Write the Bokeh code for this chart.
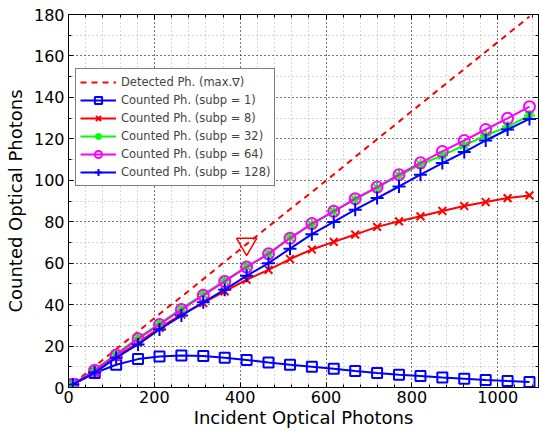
from bokeh.plotting import figure
from bokeh.models import (Range1d, LinearAxis, SingleIntervalTicker, Legend, LegendItem,
                          CustomJSTickFormatter)
from bokeh.embed import file_html
from bokeh.resources import INLINE

# ---- data ----
incident = [10, 61, 111, 162, 212, 263, 314, 364, 415, 466, 516,
            567, 618, 668, 719, 770, 820, 871, 922, 972, 1023, 1074]
detected = [1.7, 10.2, 18.5, 27.0, 35.5, 43.8, 52.3, 60.7, 69.2, 77.7, 86.0,
            94.3, 102.8, 111.3, 119.8, 128.3, 136.7, 145.2, 153.7, 162.0, 170.5, 179.0]
subp1 = [1.5, 7.0, 11.0, 13.7, 15.0, 15.5, 15.2, 14.3, 13.3, 12.1, 11.0,
         10.0, 9.0, 8.0, 7.0, 6.2, 5.5, 4.8, 4.2, 3.6, 3.1, 2.7]
subp8 = [1.5, 7.2, 14.9, 21.6, 28.8, 35.2, 40.8, 46.4, 52.0, 56.8, 62.0,
         66.6, 70.3, 73.8, 77.5, 80.2, 82.6, 85.2, 87.6, 89.5, 91.4, 92.7]
subp32 = [1.5, 8.6, 16.1, 24.0, 30.9, 38.1, 45.0, 51.6, 58.3, 64.6, 72.4,
          78.6, 85.0, 90.8, 96.4, 102.3, 107.6, 112.0, 116.8, 121.6, 125.9, 131.2]
subp64 = [1.5, 8.3, 15.7, 23.5, 30.4, 37.6, 44.5, 51.2, 58.1, 64.5, 72.0,
          79.1, 85.0, 91.1, 96.7, 102.7, 108.4, 113.9, 119.2, 124.5, 129.9, 135.5]
subp128 = [1.5, 7.2, 14.4, 20.8, 28.0, 34.7, 41.1, 47.2, 53.9, 60.0, 67.0,
           74.0, 79.9, 85.8, 91.4, 97.0, 102.7, 108.3, 113.6, 119.2, 124.5, 129.6]
max_grad_index = 8

x_label = "Incident Optical Photons"
y_label = "Counted Optical Photons"
FONT = "DejaVu Sans"

p = figure(width=541, height=432, output_backend="svg", toolbar_location=None,
           x_range=Range1d(0, 1095), y_range=Range1d(0, 180),
           min_border_left=68, min_border_right=3, min_border_top=14, min_border_bottom=45,
           x_axis_label=x_label, y_axis_label=y_label)
p.background_fill_color = "white"
p.border_fill_color = "white"
p.outline_line_color = "black"
p.outline_line_width = 1

xt = SingleIntervalTicker(interval=200, num_minor_ticks=5)
yt = SingleIntervalTicker(interval=20, num_minor_ticks=2)
p.xaxis.ticker = xt
p.yaxis.ticker = yt
p.xgrid.ticker = xt
p.ygrid.ticker = yt

for ax in (p.xaxis[0], p.yaxis[0]):
    ax.axis_line_color = "black"
    ax.major_tick_in = 5
    ax.major_tick_out = 0
    ax.minor_tick_in = 3
    ax.minor_tick_out = 0
    ax.major_tick_line_color = "black"
    ax.minor_tick_line_color = "black"
    ax.major_label_text_font = FONT
    ax.major_label_text_font_size = "16px"
    ax.major_label_text_color = "black"
    ax.axis_label_text_font = FONT
    ax.axis_label_text_font_size = "18px"
    ax.axis_label_text_font_style = "normal"
    ax.axis_label_text_color = "black"
p.xaxis.major_label_standoff = 3
p.xaxis.axis_label_standoff = 1
p.yaxis.major_label_standoff = 4
p.yaxis.axis_label_standoff = 5

# mirrored tick marks on top and right (no labels)
for loc, tk in (("above", xt), ("right", yt)):
    a = LinearAxis(ticker=tk, formatter=CustomJSTickFormatter(code="return ''"),
                   major_tick_in=5, major_tick_out=0, minor_tick_in=3, minor_tick_out=0,
                   major_label_standoff=0, axis_line_color="black")
    p.add_layout(a, loc)

for g in (p.xgrid[0], p.ygrid[0]):
    g.grid_line_color = "black"
    g.grid_line_dash = "1 3"
    g.grid_line_alpha = 0.9
    g.minor_grid_line_color = "#999999"
    g.minor_grid_line_dash = "1 3"
    g.minor_grid_line_alpha = 0.8

LW = 2
r_det = p.line(incident, detected, line_color="#ff0000", line_width=LW, line_dash="6 5")
p.scatter([incident[max_grad_index]], [detected[max_grad_index]], marker="inverted_triangle",
          size=20, fill_color=None, line_color="#ff0000", line_width=1.5)

series = [
    (subp1, "#0000ff", "square", 10, "Counted Ph. (subp = 1)"),
    (subp8, "#ff0000", "x", 11, "Counted Ph. (subp = 8)"),
    (subp32, "#00ff00", "asterisk", 11, "Counted Ph. (subp = 32)"),
    (subp64, "#ff00ff", "circle", 11, "Counted Ph. (subp = 64)"),
    (subp128, "#0000ff", "cross", 13, "Counted Ph. (subp = 128)"),
]
items = [LegendItem(label="Detected Ph. (max.\u2207)", renderers=[r_det])]
for ys, col, mk, sz, lab in series:
    rl = p.line(incident, ys, line_color=col, line_width=LW)
    rs = p.scatter(incident, ys, marker=mk, size=sz, fill_color=None,
                   line_color=col, line_width=2)
    items.append(LegendItem(label=lab, renderers=[rl, rs]))

legend = Legend(items=items, location=(7, 201), padding=4, spacing=0, margin=0,
                glyph_width=36, glyph_height=18, label_height=18, label_standoff=5,
                label_text_font=FONT, label_text_font_size="11.5px",
                border_line_color="black", border_line_width=1,
                background_fill_color="white", background_fill_alpha=1.0)
p.add_layout(legend)

open("out.html", "w").write(file_html(p, INLINE))
